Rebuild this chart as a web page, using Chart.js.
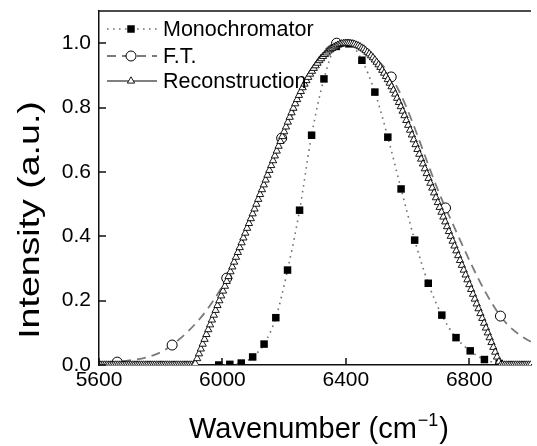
<!DOCTYPE html>
<html><head><meta charset="utf-8">
<script src="https://cdn.jsdelivr.net/npm/chart.js@4.4.0/dist/chart.umd.min.js"></script>
<style>html,body{margin:0;padding:0;background:#fff;overflow:hidden}</style>
</head><body>
<canvas id="c" width="537" height="446" style="display:block"></canvas>
<script>
// ---- data ----
const xTicks = [5600, 6000, 6400, 6800];
const yTicks = [0, 0.2, 0.4, 0.6, 0.8, 1.0];
const seriesNames = ['Monochromator', 'F.T.', 'Reconstruction'];
const xTitleMain = 'Wavenumber (cm';
const xTitleSup = '\u22121';
const xTitleEnd = ')';
const yTitle = 'Intensity (a.u.)';

const monoX = [5988, 6024, 6061, 6098, 6135, 6173, 6211, 6250, 6289, 6329, 6369, 6410,
               6452, 6494, 6536, 6579, 6623, 6667, 6711, 6757, 6803, 6849, 6897];
const monoY = [0.0, 0.002, 0.006, 0.025, 0.065, 0.147, 0.295, 0.481, 0.714, 0.889, 0.99, 0.998,
               0.947, 0.848, 0.708, 0.547, 0.388, 0.254, 0.155, 0.085, 0.044, 0.017, 0.005];

const ftX = [5481, 5659, 5837, 6014, 6192, 6370, 6547, 6723, 6901, 7078];
const ftY = [0.0, 0.009, 0.062, 0.27, 0.705, 1.0, 0.895, 0.488, 0.152, 0.03];

const reconX = [
5600,5606,5612,5618,5624,5630,5636,5642,5648,5654,
5660,5666,5672,5678,5684,5690,5696,5702,5708,5714,
5720,5726,5732,5738,5744,5750,5756,5762,5768,5774,
5780,5786,5792,5798,5804,5810,5816,5822,5828,5834,
5840,5846,5852,5858,5864,5870,5876,5882,5888,5894,
5900,5906,5912,5918,5924,5930,5936,5942,5948,5954,
5960,5966,5972,5978,5984,5990,5996,6002,6008,6014,
6020,6026,6032,6038,6044,6050,6056,6062,6068,6074,
6080,6086,6092,6098,6104,6110,6116,6122,6128,6134,
6140,6146,6152,6158,6164,6170,6176,6182,6188,6194,
6200,6206,6212,6218,6224,6230,6236,6242,6248,6254,
6260,6266,6272,6278,6284,6290,6296,6302,6308,6314,
6320,6326,6332,6338,6344,6350,6356,6362,6368,6374,
6380,6386,6392,6398,6404,6410,6416,6422,6428,6434,
6440,6446,6452,6458,6464,6470,6476,6482,6488,6494,
6500,6506,6512,6518,6524,6530,6536,6542,6548,6554,
6560,6566,6572,6578,6584,6590,6596,6602,6608,6614,
6620,6626,6632,6638,6644,6650,6656,6662,6668,6674,
6680,6686,6692,6698,6704,6710,6716,6722,6728,6734,
6740,6746,6752,6758,6764,6770,6776,6782,6788,6794,
6800,6806,6812,6818,6824,6830,6836,6842,6848,6854,
6860,6866,6872,6878,6884,6890,6896,6902,6908,6914,
6920,6926,6932,6938,6944,6950,6956,6962,6968,6974,
6980,6986,6992,6998];
const reconY = [
0,0,0,0,0,0,0,0,0,0,
0,0,0,0,0,0,0,0,0,0,
0,0,0,0,0,0,0,0,0,0,
0,0,0,0,0,0,0,0,0,0,
0,0,0,0,0,0,0,0,0,0,
0,0,0.005,0.02,0.035,0.05,0.065,0.08,0.095,0.11,
0.125,0.14,0.155,0.17,0.185,0.2,0.215,0.23,0.245,0.26,
0.275,0.29,0.305,0.32,0.335,0.35,0.365,0.38,0.395,0.41,
0.425,0.44,0.455,0.47,0.485,0.5,0.515,0.53,0.545,0.56,
0.575,0.59,0.605,0.62,0.635,0.65,0.665,0.68,0.695,0.71,
0.725,0.74,0.755,0.77,0.784,0.798,0.812,0.825,0.838,0.85,
0.862,0.873,0.884,0.894,0.904,0.913,0.922,0.93,0.938,0.946,
0.952,0.959,0.965,0.97,0.976,0.98,0.984,0.988,0.991,0.994,
0.996,0.998,0.999,1.0,1.0,1.0,0.999,0.998,0.997,0.994,
0.992,0.989,0.985,0.982,0.977,0.972,0.967,0.961,0.955,0.948,
0.941,0.933,0.925,0.916,0.907,0.897,0.887,0.876,0.865,0.854,
0.842,0.829,0.816,0.803,0.789,0.775,0.76,0.745,0.73,0.715,
0.7,0.685,0.67,0.655,0.64,0.625,0.61,0.595,0.58,0.565,
0.55,0.535,0.52,0.505,0.49,0.475,0.46,0.445,0.43,0.415,
0.4,0.385,0.37,0.355,0.34,0.325,0.31,0.295,0.28,0.265,
0.25,0.235,0.22,0.205,0.19,0.175,0.16,0.145,0.13,0.115,
0.1,0.085,0.07,0.055,0.04,0.025,0.01,0,0,0,
0,0,0,0,0,0,0,0,0,0,
0,0,0,0];

// ---- styling ----
const FONT = "'Liberation Sans', Arial, sans-serif";
const toXY = (xs, ys) => xs.map((x, i) => ({x: x, y: ys[i]}));

const frame = {
  id: 'frame',
  afterDraw(chart) {
    const ctx = chart.ctx, ca = chart.chartArea;
    const xs = chart.scales.x, ys = chart.scales.y;
    ctx.save();
    ctx.strokeStyle = '#111';
    ctx.lineWidth = 1.5;
    // top border
    ctx.beginPath(); ctx.moveTo(ca.left, ca.top); ctx.lineTo(ca.right, ca.top); ctx.stroke();
    // inward ticks
    ctx.beginPath();
    xTicks.forEach(v => { const px = Math.round(xs.getPixelForValue(v)); ctx.moveTo(px, ca.bottom); ctx.lineTo(px, ca.bottom - 7); });
    yTicks.forEach(v => { const py = Math.round(ys.getPixelForValue(v)); ctx.moveTo(ca.left, py); ctx.lineTo(ca.left + 7, py); });
    ctx.stroke();
    // legend
    const ds = chart.data.datasets;
    const rows = [ca.top + 18, ca.top + 45, ca.top + 70];
    ds.forEach((d, i) => {
      const y = rows[i];
      ctx.save();
      ctx.strokeStyle = d.borderColor; ctx.lineWidth = d.borderWidth;
      ctx.setLineDash(d.borderDash || []);
      ctx.beginPath(); ctx.moveTo(ca.left + 8, y); ctx.lineTo(ca.left + 58, y); ctx.stroke();
      ctx.restore();
      ctx.save();
      ctx.fillStyle = d.pointBackgroundColor; ctx.strokeStyle = d.pointBorderColor; ctx.lineWidth = d.pointBorderWidth;
      Chart.helpers.drawPoint(ctx, {pointStyle: d.pointStyle, radius: d.pointRadius, rotation: 0, borderWidth: d.pointBorderWidth}, ca.left + 32, y);
      ctx.restore();
      ctx.fillStyle = '#000'; ctx.font = '21.5px ' + FONT; ctx.textBaseline = 'middle'; ctx.textAlign = 'left';
      ctx.fillText(d.label, ca.left + 64, y + 1);
    });
    // x title with superscript
    ctx.fillStyle = '#000';
    ctx.textBaseline = 'alphabetic'; ctx.textAlign = 'left';
    const fMain = '29px ' + FONT, fSup = '18px ' + FONT;
    ctx.font = fMain; const w1 = ctx.measureText(xTitleMain).width, w3 = ctx.measureText(xTitleEnd).width;
    ctx.font = fSup; const w2 = ctx.measureText(xTitleSup).width;
    const cx = 319, total = w1 + w2 + w3 + 2;
    const x0 = cx - total / 2, by = 438;
    ctx.font = fMain; ctx.fillText(xTitleMain, x0, by);
    ctx.font = fSup; ctx.fillText(xTitleSup, x0 + w1 + 1, by - 12);
    ctx.font = fMain; ctx.fillText(xTitleEnd, x0 + w1 + w2 + 2, by);
    // y title (slightly widened along its reading direction, as in the reference)
    ctx.save();
    ctx.translate(31, 220);
    ctx.rotate(-Math.PI / 2);
    ctx.scale(1.25, 1);
    ctx.font = '30px ' + FONT; ctx.textAlign = 'center'; ctx.textBaseline = 'middle';
    ctx.fillText(yTitle, 0, 0);
    ctx.restore();
    ctx.restore();
  }
};

new Chart(document.getElementById('c'), {
  type: 'line',
  data: {
    datasets: [
      {
        label: seriesNames[0], data: toXY(monoX, monoY), order: 3,
        borderColor: '#707070', borderWidth: 1.6, borderDash: [1.6, 4.4], cubicInterpolationMode: 'monotone',
        pointStyle: 'rect', pointRadius: 5.3, pointBackgroundColor: '#000', pointBorderColor: '#000', pointBorderWidth: 0
      },
      {
        label: seriesNames[1], data: toXY(ftX, ftY), order: 2,
        borderColor: '#7a7a7a', borderWidth: 1.8, borderDash: [9, 6], cubicInterpolationMode: 'monotone',
        pointStyle: 'circle', pointRadius: 5, pointBackgroundColor: '#fff', pointBorderColor: '#000', pointBorderWidth: 1
      },
      {
        label: seriesNames[2], data: toXY(reconX, reconY), order: 1,
        borderColor: '#000', borderWidth: 1, tension: 0,
        pointStyle: 'triangle', pointRadius: 4.2, pointBackgroundColor: '#fff', pointBorderColor: '#000', pointBorderWidth: 0.9
      }
    ]
  },
  options: {
    responsive: false, animation: false, devicePixelRatio: 1,
    layout: {padding: {top: 11, right: 0, bottom: 0, left: 0}},
    plugins: {legend: {display: false}, tooltip: {enabled: false}},
    scales: {
      x: {
        type: 'linear', min: 5600, max: 7000,
        afterBuildTicks: s => { s.ticks = xTicks.map(v => ({value: v})); },
        afterFit: s => { s.height = 81; s.paddingLeft = 0; s.paddingRight = 0; },
        grid: {display: false, drawTicks: false},
        border: {display: true, color: '#111', width: 1.5},
        ticks: {padding: 3, color: '#000', autoSkip: false, maxRotation: 0, font: {family: FONT, size: 21},
                callback: v => String(v)}
      },
      y: {
        type: 'linear', min: 0, max: 1.1,
        afterBuildTicks: s => { s.ticks = yTicks.map(v => ({value: v})); },
        afterFit: s => { s.width = 99; s.paddingTop = 0; s.paddingBottom = 0; },
        grid: {display: false, drawTicks: false},
        border: {display: true, color: '#111', width: 1.5},
        ticks: {padding: 8, color: '#000', font: {family: FONT, size: 21}, callback: v => Number(v).toFixed(1)}
      }
    }
  },
  plugins: [frame]
});
</script>
</body></html>
